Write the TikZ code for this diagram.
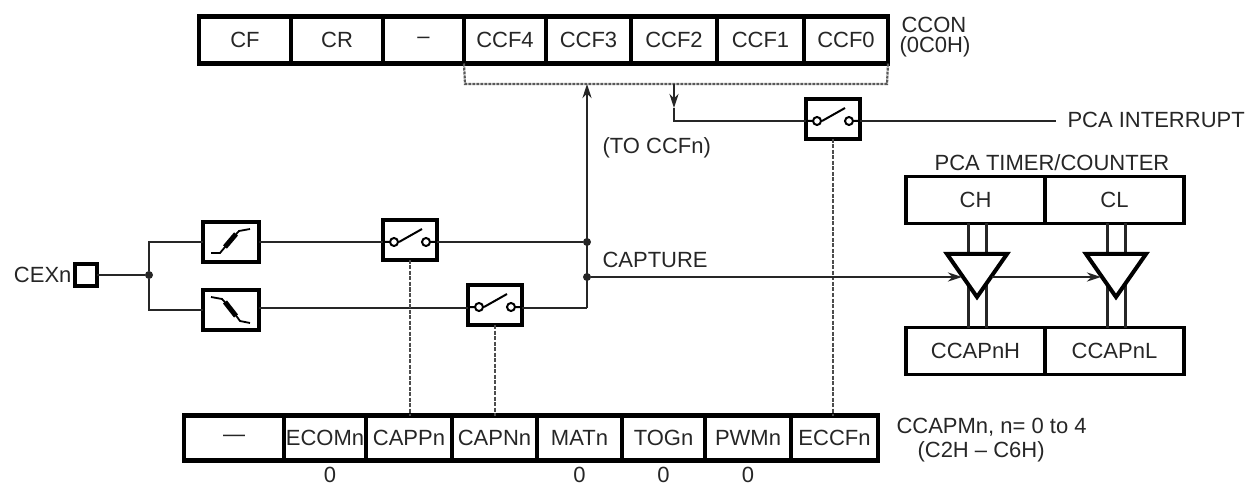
\documentclass[tikz,border=0pt]{standalone}
\usepackage{fontspec}
\setmainfont{Liberation Sans}
\usetikzlibrary{arrows.meta,positioning,shapes.geometric}

\begin{document}
\begin{tikzpicture}[x=1pt,y=-1pt,>={Stealth[length=14pt,width=9pt]},
  every node/.style={font=\fontsize{22}{24}\selectfont,text=black!85},
  regcell/.style={draw,line width=4.5pt,minimum height=47,inner sep=0pt,outer sep=0pt},
  lowcell/.style={draw,line width=4.5pt,minimum height=45,inner sep=0pt,outer sep=0pt},
  timcell/.style={draw,line width=3.5pt,minimum height=47,minimum width=139,inner sep=0pt,outer sep=0pt},
  wire/.style={line width=2.4pt,black!85},
  busline/.style={line width=2.2pt,black!65,dash pattern=on 3pt off 1pt},
  ctrl/.style={line width=1.8pt,black!70,dash pattern=on 4pt off 1.5pt},
  bus/.style={line width=3pt,black!85},
  dot/.style={circle,fill=black!85,inner sep=0pt,minimum size=8},
  swbox/.style={draw,line width=4.5pt,fill=white,minimum width=54,minimum height=40,outer sep=0pt,
    path picture={\begin{scope}[shift={(path picture bounding box.center)}]
      \draw[line width=2pt] (-27,2) -- (-21,2) (27,2) -- (21,2) (-11,2) -- (12,-11);
      \draw[line width=2pt] (-16,2) circle (4) (16,2) circle (4);
    \end{scope}}},
  riseedge/.style={draw,line width=4.5pt,fill=white,minimum width=56,minimum height=40,outer sep=0pt,
    path picture={\begin{scope}[shift={(path picture bounding box.center)}]
      \draw[line width=1.8pt] (-20,11) -- (-11,11) -- (-1,-1) -- (8,-11) -- (19,-13);
      \draw[line width=5pt] (-6,5) -- (5,-8);
    \end{scope}}},
  falledge/.style={draw,line width=4.5pt,fill=white,minimum width=56,minimum height=40,outer sep=0pt,
    path picture={\begin{scope}[shift={(path picture bounding box.center)}]
      \draw[line width=1.8pt] (-20,-13) -- (-9,-11) -- (1,0) -- (9,11) -- (19,13);
      \draw[line width=5pt] (-6,-8) -- (5,6);
    \end{scope}}},
  buffer/.style={draw,line width=4pt,fill=white,isosceles triangle,isosceles triangle stretches,
    shape border rotate=-90,minimum width=60,minimum height=43,inner sep=0pt,outer sep=0pt}]
\useasboundingbox (0,0) rectangle (1255,486);

% CCON register
\node[regcell,minimum width=92,anchor=west] (cf) at (199,40) {CF};
\node[regcell,minimum width=92,right=0pt of cf] (cr) {CR};
\node[regcell,minimum width=81,right=0pt of cr] (dash) {--};
\node[regcell,minimum width=82,right=0pt of dash] (ccf4) {CCF4};
\node[regcell,minimum width=85,right=0pt of ccf4] (ccf3) {CCF3};
\node[regcell,minimum width=86,right=0pt of ccf3] (ccf2) {CCF2};
\node[regcell,minimum width=87,right=0pt of ccf2] (ccf1) {CCF1};
\node[regcell,minimum width=84,right=0pt of ccf1] (ccf0) {CCF0};
\node[anchor=west] (ccon) at (898,25) {CCON};
\node[anchor=west] (cconaddr) at (896,47) {(0C0H)};

% CCAPMn register
\node[lowcell,minimum width=100,anchor=west] (empty) at (184,438) {---};
\node[lowcell,minimum width=82,right=0pt of empty] (ecom) {ECOMn};
\node[lowcell,minimum width=86,right=0pt of ecom] (capp) {CAPPn};
\node[lowcell,minimum width=85,right=0pt of capp] (capn) {CAPNn};
\node[lowcell,minimum width=85,right=0pt of capn] (mat) {MATn};
\node[lowcell,minimum width=83,right=0pt of mat] (tog) {TOGn};
\node[lowcell,minimum width=86,right=0pt of tog] (pwm) {PWMn};
\node[lowcell,minimum width=87,right=0pt of pwm] (eccf) {ECCFn};
\node[anchor=west] (ccapm) at (893,427) {CCAPMn, n= 0 to 4};
\node[anchor=west] (ccapaddr) at (914,452) {(C2H -- C6H)};
\node[below=3pt of ecom,xshift=5pt] (zeroa) {0};
\node[below=3pt of mat] (zerob) {0};
\node[below=3pt of tog] (zeroc) {0};
\node[below=3pt of pwm] (zerod) {0};

% timer and compare registers
\node[timcell,anchor=west] (ch) at (906,200) {CH};
\node[timcell,right=0pt of ch] (cl) {CL};
\node[timcell,anchor=west] (ccaph) at (906,351) {CCAPnH};
\node[timcell,right=0pt of ccaph] (ccapl) {CCAPnL};
\node[above=2pt of ch.north east,xshift=7pt] (timlabel) {PCA TIMER/COUNTER};

% input side
\node[draw,line width=4.5pt,minimum size=22,inner sep=0pt,outer sep=0pt] (cex) at (86,275) {};
\node[left=0pt of cex] (cexlabel) {CEXn};
\node[dot] (split) at (149,275) {};
\node[riseedge] (rise) at (231,242) {};
\node[falledge] (fall) at (231,310) {};
\node[swbox] (swp) at (410,240) {};
\node[swbox] (swn) at (495,305) {};
\node[swbox] (swi) at (833,119) {};

\node[dot] (upjoin) at (587,242) {};
\node[dot] (capjoin) at (587,277) {};
\coordinate (lowjoin) at (587,308);
\coordinate (topjoin) at (587,84);
\coordinate (busl) at (465,84);
\coordinate (busr) at (887,84);
\coordinate (intdrop) at (674,84);
\coordinate (intarrow) at (674,108);
\coordinate (intend) at (1056,121);
\node[anchor=west] (intlabel) at (1064,120) {PCA INTERRUPT};
\node[anchor=west] (toccf) at (599,148) {(TO CCFn)};
\node[anchor=west] (caplabel) at (599,260) {CAPTURE};

% flag bus
\draw[busline] (ccf4.south west) -- (busl) -- (busr) -- (ccf0.south east);

% wires
\draw[wire] (cex) -- (split);
\draw[wire] (split) |- (rise);
\draw[wire] (split) |- (fall);
\draw[wire] (rise) -- (swp.west |- rise);
\draw[wire] (fall.east |- lowjoin) -- (swn.west |- lowjoin);
\draw[wire] (swp.east |- upjoin) -- (upjoin);
\draw[wire] (swn.east |- lowjoin) -- (lowjoin);
\draw[wire,->] (lowjoin) -- (topjoin);
\draw[wire,->] (intdrop) -- (intarrow);
\draw[wire] (intarrow) |- (swi.west |- intend);
\draw[wire] (swi.east |- intend) -- (intend);

% control lines
\draw[ctrl] (swp.south) -- (swp.south |- capp.north);
\draw[ctrl] (swn.south) -- (swn.south |- capn.north);
\draw[ctrl] (swi.south) -- (swi.south |- eccf.north);

% compare buses
\coordinate (buftoph) at (977,254);
\coordinate (buftopl) at (1116,254);
\foreach \off in {-9,9} {
  \draw[bus] (ch.south -| {977+\off},0) -- ({977+\off},254);
  \draw[bus] (cl.south -| {1116+\off},0) -- ({1116+\off},254);
  \draw[bus] ({977+\off},280) -- (ccaph.north -| {977+\off},0);
  \draw[bus] ({1116+\off},280) -- (ccapl.north -| {1116+\off},0);
}
\node[buffer,anchor=lower side] (bufh) at (buftoph) {};
\node[buffer,anchor=lower side] (bufl) at (buftopl) {};
\draw[wire,->] (capjoin) -- (capjoin -| bufh.right side);
\draw[wire,->] (bufh.left side |- capjoin) -- (capjoin -| bufl.right side);
\end{tikzpicture}
\end{document}
